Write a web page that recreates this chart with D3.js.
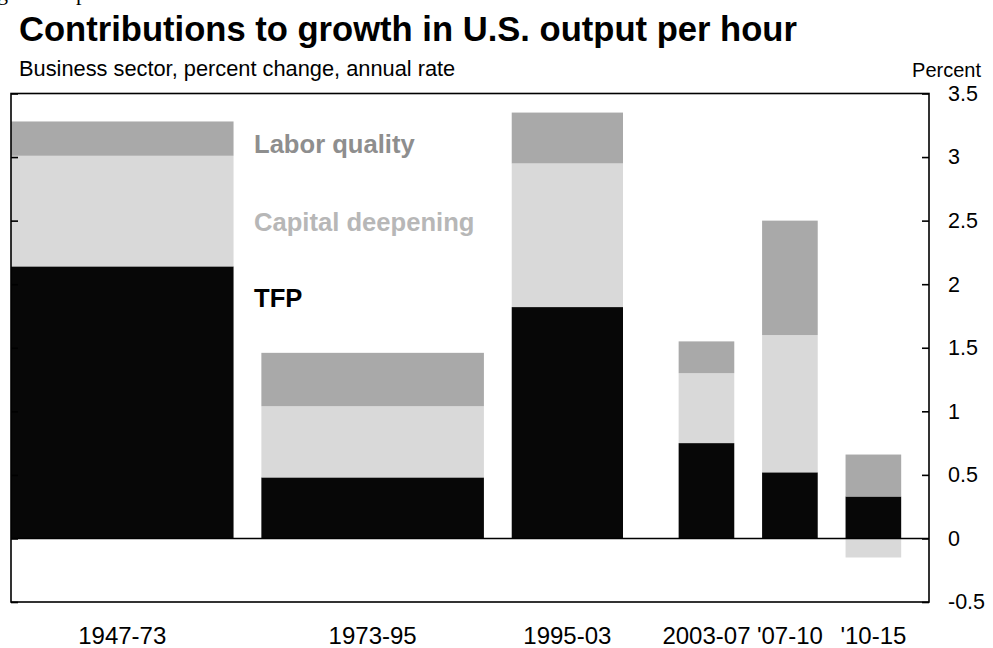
<!DOCTYPE html>
<html>
<head>
<meta charset="utf-8">
<script src="https://cdn.jsdelivr.net/npm/d3@7"></script>
<style>
  body { margin: 0; background: #fff; overflow: hidden; }
  svg { display: block; font-family: "Liberation Sans", Arial, sans-serif; }
</style>
</head>
<body>
<div id="chart"></div>
<script>
// Data
const periods = ["1947-73", "1973-95", "1995-03", "2003-07", "'07-10", "'10-15"];
const tfp = [2.14, 0.48, 1.82, 0.75, 0.52, 0.33];
const capitalDeepening = [0.87, 0.56, 1.13, 0.55, 1.08, -0.15];
const laborQuality = [0.27, 0.42, 0.40, 0.25, 0.90, 0.33];
const yTicks = [3.5, 3, 2.5, 2, 1.5, 1, 0.5, 0, -0.5];

// Layout: bar widths and gaps in "slot units"
const barUnits = [4, 4, 2, 1, 1, 1];
const gapUnits = [0, 0.5, 0.5, 1, 0.5, 0.5];
const trailingUnits = 0.5;

const svgWidth = 993;
const svgHeight = 648;
const plot = { left: 11, right: 929, top: 93.5, bottom: 602 };

const svg = d3.select("#chart")
  .append("svg")
  .attr("width", svgWidth)
  .attr("height", svgHeight);

// Cumulative unit offsets for each bar
let acc = 0;
const slots = periods.map((p, i) => {
  acc += gapUnits[i];
  const s = { start: acc, end: acc + barUnits[i] };
  acc += barUnits[i];
  return s;
});
const totalUnits = acc + trailingUnits;

const x = d3.scaleLinear()
  .domain([0, totalUnits])
  .range([plot.left, plot.right]);

const y = d3.scaleLinear()
  .domain([-0.5, 3.5])
  .range([plot.bottom, plot.top]);

const rows = periods.map((p, i) => ({
  period: p,
  tfp: tfp[i],
  capital: capitalDeepening[i],
  labor: laborQuality[i]
}));

const keys = ["tfp", "capital", "labor"];
const colors = { tfp: "#070707", capital: "#d9d9d9", labor: "#a9a9a9" };

const stacked = d3.stack()
  .keys(keys)
  .offset(d3.stackOffsetDiverging)(rows);

// Bars
svg.append("g")
  .selectAll("g")
  .data(stacked)
  .join("g")
  .attr("fill", d => colors[d.key])
  .selectAll("rect")
  .data(d => d)
  .join("rect")
  .attr("x", (d, i) => x(slots[i].start))
  .attr("width", (d, i) => x(slots[i].end) - x(slots[i].start))
  .attr("y", d => y(Math.max(d[0], d[1])))
  .attr("height", d => Math.abs(y(d[0]) - y(d[1])));

// Zero line
svg.append("line")
  .attr("x1", plot.left).attr("x2", plot.right)
  .attr("y1", y(0)).attr("y2", y(0))
  .attr("stroke", "#000").attr("stroke-width", 1.6);

// Frame
svg.append("rect")
  .attr("x", plot.left).attr("y", plot.top)
  .attr("width", plot.right - plot.left)
  .attr("height", plot.bottom - plot.top)
  .attr("fill", "none")
  .attr("stroke", "#000")
  .attr("stroke-width", 1.6);

// Right axis with labels
const rightAxis = d3.axisRight(y)
  .tickValues(yTicks)
  .tickSizeInner(-7)
  .tickSizeOuter(0)
  .tickPadding(19)
  .tickFormat(d => String(d));

const ra = svg.append("g")
  .attr("transform", `translate(${plot.right},0)`)
  .call(rightAxis);
ra.select(".domain").remove();
ra.selectAll("line").attr("stroke", "#000").attr("stroke-width", 1.6);
ra.selectAll("text")
  .attr("font-family", "Liberation Sans, Arial, sans-serif")
  .attr("font-size", 21.5)
  .attr("fill", "#000");

// Left axis ticks only
const leftAxis = d3.axisLeft(y)
  .tickValues(yTicks)
  .tickSizeInner(-7)
  .tickSizeOuter(0)
  .tickFormat("");
const la = svg.append("g")
  .attr("transform", `translate(${plot.left},0)`)
  .call(leftAxis);
la.select(".domain").remove();
la.selectAll("line").attr("stroke", "#000").attr("stroke-width", 1.6);

// Category labels
svg.append("g")
  .selectAll("text")
  .data(periods)
  .join("text")
  .attr("x", (d, i) => x((slots[i].start + slots[i].end) / 2))
  .attr("y", 644)
  .attr("text-anchor", "middle")
  .attr("font-size", 24)
  .text(d => d);

// Series labels inside the chart
const seriesLabels = [
  { text: "Labor quality", y: 153, fill: "#8e8e8e" },
  { text: "Capital deepening", y: 231, fill: "#b7b7b7" },
  { text: "TFP", y: 307, fill: "#000" }
];
svg.append("g")
  .selectAll("text")
  .data(seriesLabels)
  .join("text")
  .attr("x", 254)
  .attr("y", d => d.y)
  .attr("font-size", 25.6)
  .attr("font-weight", "bold")
  .attr("fill", d => d.fill)
  .text(d => d.text);

// Titles
svg.append("text")
  .attr("x", 19).attr("y", 41)
  .attr("font-size", 34.6)
  .attr("font-weight", "bold")
  .text("Contributions to growth in U.S. output per hour");

svg.append("text")
  .attr("x", 19).attr("y", 76)
  .attr("font-size", 21.8)
  .text("Business sector, percent change, annual rate");

svg.append("text")
  .attr("x", 981).attr("y", 77)
  .attr("text-anchor", "end")
  .attr("font-size", 20)
  .text("Percent");

// Clipped line of body text from the page above
const clip = svg.append("text")
  .attr("y", 0)
  .attr("font-family", "Liberation Serif, Times New Roman, serif")
  .attr("font-size", 22);
clip.append("tspan").attr("x", -3).text("g");
clip.append("tspan").attr("x", 76).text("p");
</script>
</body>
</html>
